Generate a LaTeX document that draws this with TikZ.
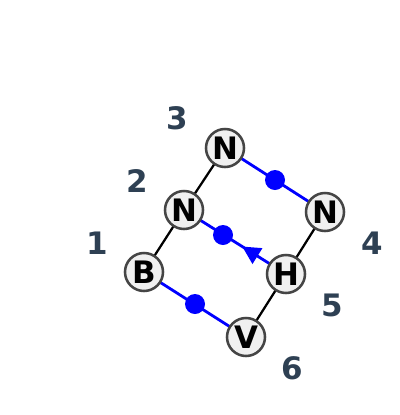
\documentclass[tikz,border=0pt]{standalone}
\usepackage{fontspec}
\setmainfont{DejaVu Sans}
\usetikzlibrary{arrows.meta, decorations.markings}
\definecolor{mynodegray}{gray}{0.94}
\definecolor{myedgegray}{gray}{0.27}
\definecolor{mylabel}{RGB}{46,64,83}

\begin{document}
\begin{tikzpicture}[x=0.025cm, y=-0.025cm,
  atom/.style={circle, draw=myedgegray, line width=1.8pt, fill=mynodegray, minimum size=0.95cm, inner sep=0pt, font=\fontsize{22}{22}\selectfont\bfseries},
  site/.style={text=mylabel, font=\fontsize{22}{22}\selectfont\bfseries},
  bond/.style={black, line width=1.6pt},
  link/.style={blue, line width=2pt},
  dot/.style={circle, fill=blue, minimum size=0.5cm, inner sep=0pt}]
  \useasboundingbox (0,0) rectangle (400,415);

  % Site numbers
  \node[site] (s1) at (97,243) {1};
  \node[site] (s2) at (137,181) {2};
  \node[site] (s3) at (177,118) {3};
  \node[site] (s4) at (372,243) {4};
  \node[site] (s5) at (332,305) {5};
  \node[site] (s6) at (292,368) {6};

  % Blue links
  \coordinate (cN3) at (225,148);
  \coordinate (cN4) at (325,212);
  \coordinate (cN2) at (184,210);
  \coordinate (cH) at (286,274);
  \coordinate (cB) at (144,272);
  \coordinate (cV) at (246,337);

  \draw[link] (cN3) -- (cN4);
  \draw[link, postaction={decorate, decoration={markings, mark=at position 0.43 with {\arrow{Triangle[length=0.45cm, width=0.45cm]}}}}] (cH) -- (cN2);
  \draw[link] (cB) -- (cV);

  % Black bonds
  \draw[bond] (cB) -- (cN2);
  \draw[bond] (cN2) -- (cN3);
  \draw[bond] (cN4) -- (cH);
  \draw[bond] (cH) -- (cV);

  % Dots on the links
  \node[dot] (d1) at (275,180) {};
  \node[dot] (d2) at (223,235) {};
  \node[dot] (d3) at (195,304) {};

  % Atoms
  \node[atom] (B) at (cB) {B};
  \node[atom] (N2) at (cN2) {N};
  \node[atom] (N3) at (cN3) {N};
  \node[atom] (N4) at (cN4) {N};
  \node[atom] (H) at (cH) {H};
  \node[atom] (V) at (cV) {V};
\end{tikzpicture}
\end{document}
